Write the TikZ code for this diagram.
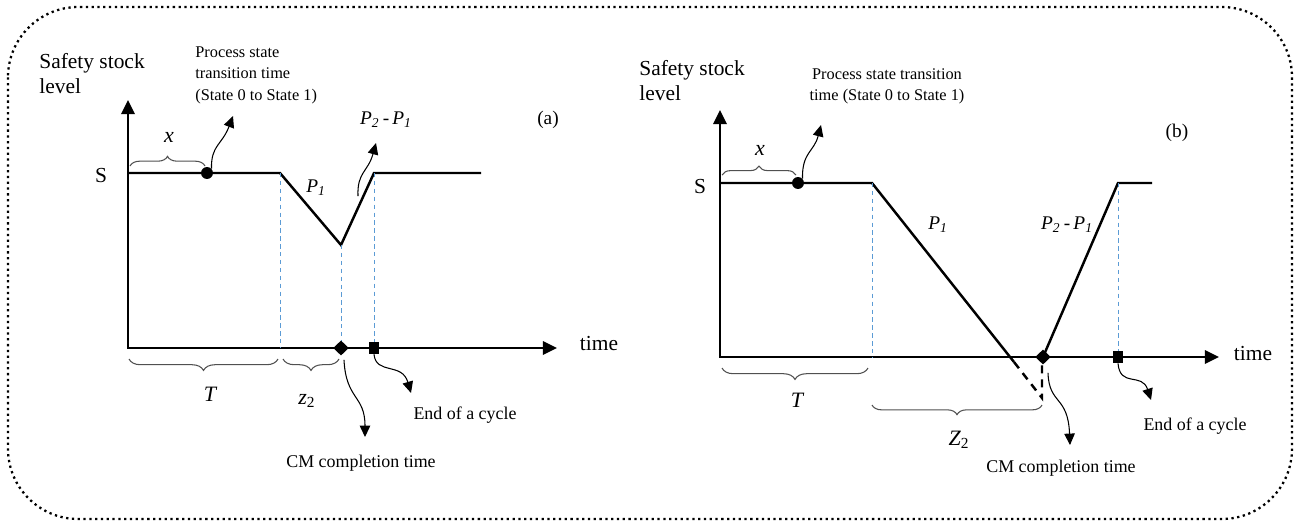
\documentclass[tikz,border=0pt]{standalone}
\usepackage{fontspec}
\setmainfont{Liberation Serif}
\usetikzlibrary{arrows.meta,positioning,shapes.geometric,decorations.pathreplacing,calc}
\definecolor{GuideBlue}{HTML}{5B9BD5}
\definecolor{BraceGray}{HTML}{505050}

\begin{document}
\begin{tikzpicture}[x=0.02cm,y=-0.02cm,>=Latex,
  every node/.style={inner sep=0pt},
  axisline/.style={line width=1.6pt,{Triangle[length=8pt,width=7.5pt]}-{Triangle[length=8pt,width=7.5pt]}},
  levelline/.style={line width=1.4pt},
  cutline/.style={line width=1.4pt,dash pattern=on 4.5pt off 3.5pt},
  guide/.style={GuideBlue,line width=0.5pt,dash pattern=on 2.5pt off 2pt},
  pointer/.style={line width=0.6pt,-{Triangle[length=6.5pt,width=6pt]}},
  bracetop/.style={BraceGray,line width=0.6pt,decorate,decoration={brace,amplitude=#1}},
  bracebot/.style={BraceGray,line width=0.6pt,decorate,decoration={brace,mirror,amplitude=#1}},
  bigtext/.style={font=\fontsize{12.2}{14.3}\selectfont},
  smalltext/.style={font=\fontsize{9.3}{12.3}\selectfont},
  labtext/.style={font=\fontsize{10.2}{12}\selectfont},
  vartext/.style={font=\fontsize{12.5}{14}\selectfont\itshape},
  ptext/.style={font=\fontsize{11}{13}\selectfont\itshape},
  dotmark/.style={circle,fill,minimum size=6.8pt},
  cmmark/.style={diamond,fill,minimum width=9pt,minimum height=8.6pt},
  cyclemark/.style={rectangle,fill,minimum width=5.8pt,minimum height=6.8pt}]

  \useasboundingbox (0,0) rectangle (1298,522);
  \draw[dotted,line width=1.3pt,rounded corners=40pt] (8,7) rectangle (1292,519);

  \coordinate (originA) at (128,348);
  \coordinate (ytopA) at (128,100);
  \coordinate (xendA) at (557,348);
  \coordinate (sstartA) at (128,173);
  \coordinate (dropA) at (280,173);
  \coordinate (lowA) at (341,245);
  \coordinate (backA) at (374,173);
  \coordinate (sendA) at (481,173);

  \draw[axisline] (ytopA) -- (originA) -- (xendA);
  \draw[levelline] (sstartA) -- (dropA) -- (lowA) -- (backA) -- (sendA);
  \draw[guide] (dropA) -- (dropA |- originA);
  \draw[guide] (lowA) -- (lowA |- originA);
  \draw[guide] (backA) -- (backA |- originA);

  \node[dotmark] (transA) at (207,173) {};
  \node[cmmark] (cmA) at (341,348) {};
  \node[cyclemark] (cycA) at (374,348) {};

  \node[bigtext,align=left,anchor=north west] (ylabelA) at (39,53) {Safety stock\\level};
  \node[smalltext,align=left,anchor=north west] (procA) at (195,46) {Process state\\transition time\\(State 0 to State 1)};
  \node[bigtext] (sA) at (101,175) {S};
  \node[bigtext] (timeA) at (599,343) {time};
  \node[font=\fontsize{11}{13}\selectfont] (tagA) at (548,120) {(a)};
  \node[ptext] (p1A) at (316,188) {P\textsubscript{1}};
  \node[ptext] (p21A) at (386,120) {P\textsubscript{2}\,\upshape-\,\itshape P\textsubscript{1}};
  \node[vartext] (xA) at (169,137) {x};
  \node[vartext] (TA) at (210,394) {T};
  \node[vartext] (zA) at (307,401) {z\textsubscript{\upshape 2}};
  \node[labtext] (cmtextA) at (361,463) {CM completion time};
  \node[labtext] (endtextA) at (465,415) {End of a cycle};

  \coordinate (procTipA) at (233,116);
  \coordinate (diffTipA) at (376,143);
  \coordinate (cmTipA) at (365,437);
  \coordinate (endTipA) at (411,393);
  \draw[pointer] (transA.north east) .. controls (211,145) and (222,145) .. (procTipA);
  \draw[pointer] (358,196) .. controls (357,172) and (368,172) .. (diffTipA);
  \draw[pointer] (cmA.south) ++(3,4) .. controls (346,400) and (365,395) .. (cmTipA);
  \draw[pointer] (cycA.south) .. controls (376,375) and (402,362) .. (endTipA);

  \draw[bracetop=5.5pt] (130,166) -- (205,166);
  \draw[bracebot=6.5pt] (129,359) -- (278,359);
  \draw[bracebot=6.5pt] (283,359) -- (339,359);

  \coordinate (originB) at (720,357);
  \coordinate (ytopB) at (720,110);
  \coordinate (xendB) at (1219,357);
  \coordinate (sstartB) at (720,183);
  \coordinate (dropB) at (872,183);
  \coordinate (cutB) at (1014,362);
  \coordinate (lowB) at (1042,398);
  \coordinate (backB) at (1118,183);
  \coordinate (sendB) at (1152,183);

  \draw[axisline] (ytopB) -- (originB) -- (xendB);
  \draw[levelline] (sstartB) -- (dropB) -- (cutB);
  \draw[cutline] (cutB) -- (lowB) -- (1042,360);
  \draw[levelline] (1043,357) -- (backB) -- (sendB);
  \draw[guide] (dropB) -- (dropB |- originB);
  \draw[guide] (backB) -- (backB |- originB);

  \node[dotmark] (transB) at (798,183) {};
  \node[cmmark] (cmB) at (1043,357) {};
  \node[cyclemark] (cycB) at (1118,357) {};

  \node[bigtext,align=left,anchor=north west] (ylabelB) at (639,60) {Safety stock\\level};
  \node[smalltext,align=center,anchor=north] (procB) at (887,68) {Process state transition\\time (State 0 to State 1)};
  \node[bigtext] (sB) at (700,186) {S};
  \node[bigtext] (timeB) at (1253,353) {time};
  \node[font=\fontsize{11}{13}\selectfont] (tagB) at (1177,133) {(b)};
  \node[ptext] (p1B) at (938,225) {P\textsubscript{1}};
  \node[ptext] (p21B) at (1067,225) {P\textsubscript{2}\,\upshape-\,\itshape P\textsubscript{1}};
  \node[vartext] (xB) at (760,150) {x};
  \node[vartext] (TB) at (797,400) {T};
  \node[vartext] (ZB) at (959,440) {Z\textsubscript{\upshape 2}};
  \node[labtext] (cmtextB) at (1061,468) {CM completion time};
  \node[labtext] (endtextB) at (1195,426) {End of a cycle};

  \coordinate (procTipB) at (821,125);
  \coordinate (cmTipB) at (1070,445);
  \coordinate (endTipB) at (1151,400);
  \draw[pointer] (transB.north east) .. controls (802,152) and (814,152) .. (procTipB);
  \draw[pointer] (cmB.south) ++(5,8) .. controls (1049,405) and (1068,395) .. (cmTipB);
  \draw[pointer] (cycB.south) .. controls (1120,388) and (1142,372) .. (endTipB);

  \draw[bracetop=5pt] (722,175) -- (796,175);
  \draw[bracebot=6.5pt] (722,368) -- (868,368);
  \draw[bracebot=5.5pt] (872,405) -- (1042,405);
\end{tikzpicture}
\end{document}
